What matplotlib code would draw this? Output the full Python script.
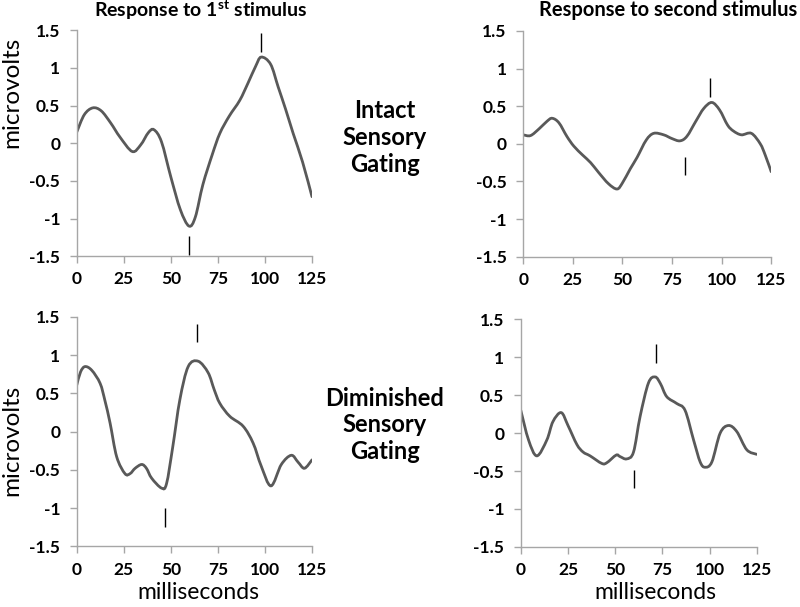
import matplotlib
matplotlib.use("Agg")
import matplotlib.pyplot as plt
from matplotlib.path import Path
from matplotlib.patches import PathPatch

plt.rcParams['font.family'] = ['Lato', 'DejaVu Sans']
plt.rcParams['mathtext.fontset'] = 'custom'
plt.rcParams['mathtext.rm'] = 'Lato'
plt.rcParams['mathtext.bf'] = 'Lato:bold'

# time points (ms) and amplitudes (microvolts)
t_intact_1 = [0, 4, 8.5, 13, 18, 23, 29.5, 34, 38, 41, 45, 50, 55, 59.6, 63, 67, 72, 76, 81, 86.6, 91, 95, 98, 103, 107, 111, 115, 120, 125]
v_intact_1 = [0.15, 0.38, 0.47, 0.43, 0.27, 0.08, -0.11, -0.02, 0.14, 0.18, 0.02, -0.45, -0.88, -1.10, -0.98, -0.55, -0.15, 0.13, 0.36, 0.57, 0.80, 1.02, 1.145, 1.05, 0.75, 0.45, 0.13, -0.25, -0.71]

t_intact_2 = [0, 3.7, 8, 12, 14.6, 18, 22, 25.5, 30, 34, 38, 43, 47.3, 50, 54, 57.4, 62, 65.8, 70.8, 75, 79, 82.5, 87, 91, 95.1, 99, 103, 106, 110, 115, 119.5, 122, 125]
v_intact_2 = [0.12, 0.11, 0.2, 0.3, 0.34, 0.28, 0.1, -0.03, -0.15, -0.25, -0.38, -0.53, -0.6, -0.52, -0.33, -0.18, 0.05, 0.14, 0.12, 0.07, 0.04, 0.1, 0.3, 0.47, 0.55, 0.45, 0.25, 0.17, 0.12, 0.14, 0.0, -0.15, -0.37]

t_dimin_1 = [0, 2, 4.4, 8, 12.4, 15, 17.7, 21.2, 25.6, 28.3, 31, 34.5, 37, 39.8, 45.1, 47.7, 51, 54.8, 59.2, 64.5, 69.8, 73, 76, 81.3, 88.4, 93.7, 98, 103.2, 108.7, 114, 117.6, 121, 125]
v_dimin_1 = [0.61, 0.78, 0.85, 0.8, 0.63, 0.4, 0.11, -0.33, -0.55, -0.55, -0.48, -0.43, -0.48, -0.61, -0.74, -0.68, -0.2, 0.42, 0.85, 0.92, 0.77, 0.55, 0.37, 0.2, 0.07, -0.15, -0.45, -0.71, -0.43, -0.31, -0.4, -0.48, -0.37]

t_dimin_2 = [0, 4.1, 8.5, 13.8, 17, 21.4, 25, 29.7, 33, 36.7, 42.9, 45.6, 50.5, 52.6, 56.1, 59.7, 63.2, 67.6, 71.2, 74, 77.3, 82.6, 87, 91.5, 95, 97.6, 101.2, 105.6, 110, 114.4, 119.7, 125]
v_dimin_2 = [0.30, -0.09, -0.30, -0.09, 0.15, 0.27, 0.1, -0.15, -0.25, -0.30, -0.40, -0.39, -0.29, -0.31, -0.34, -0.25, 0.22, 0.66, 0.74, 0.65, 0.48, 0.39, 0.30, -0.09, -0.38, -0.45, -0.38, 0.0, 0.10, 0.02, -0.22, -0.28]

# peak markers: x position, bottom, top of each little tick
mark_intact_1 = ([98, 59.5], [1.21, -1.49], [1.47, -1.23])
mark_intact_2 = ([94.3, 81.7], [0.62, -0.42], [0.88, -0.18])
mark_dimin_1 = ([64, 46.9], [1.17, -1.25], [1.41, -1.0])
mark_dimin_2 = ([71.7, 59.7], [0.93, -0.72], [1.17, -0.48])

y_ticks = [-1.5, -1, -0.5, 0, 0.5, 1, 1.5]
y_labels = ['-1.5', '-1', '-0.5', '0', '0.5', '1', '1.5']
x_ticks = [0, 25, 50, 75, 100, 125]


def smooth_path(t, v):
    # Excel-style "smoothed line": bezier segments through the points
    pts = list(zip(t, v))
    n = len(pts)
    verts = [pts[0]]
    codes = [Path.MOVETO]
    for i in range(n - 1):
        p0 = pts[max(i - 1, 0)]
        p1 = pts[i]
        p2 = pts[i + 1]
        p3 = pts[min(i + 2, n - 1)]
        c1 = (p1[0] + (p2[0] - p0[0]) / 6, p1[1] + (p2[1] - p0[1]) / 6)
        c2 = (p2[0] - (p3[0] - p1[0]) / 6, p2[1] - (p3[1] - p1[1]) / 6)
        verts += [c1, c2, p2]
        codes += [Path.CURVE4] * 3
    return Path(verts, codes)


fig = plt.figure(figsize=(8, 6.07), dpi=100)

panels = [
    ([0.096, 0.578, 0.294, 0.372], t_intact_1, v_intact_1, mark_intact_1, 0.726, False),
    ([0.654, 0.577, 0.310, 0.372], t_intact_2, v_intact_2, mark_intact_2, None, False),
    ([0.096, 0.100, 0.294, 0.378], t_dimin_1, v_dimin_1, mark_dimin_1, 0.46, 0.515),
    ([0.651, 0.099, 0.295, 0.375], t_dimin_2, v_dimin_2, mark_dimin_2, None, 0.57),
]

for rect, t, v, marks, ylab, xlab in panels:
    ax = fig.add_axes(rect)
    ax.add_patch(PathPatch(smooth_path(t, v), fill=False, edgecolor='#595959', lw=2.0, capstyle='round'))
    ax.vlines(marks[0], marks[1], marks[2], color='black', lw=1.0)
    ax.set_xlim(0, 125)
    ax.set_ylim(-1.5, 1.5)
    ax.set_xticks(x_ticks)
    ax.set_yticks(y_ticks)
    ax.set_yticklabels(y_labels)
    for s in ['top', 'right']:
        ax.spines[s].set_visible(False)
    for s in ['left', 'bottom']:
        ax.spines[s].set_color('#a6a6a6')
        ax.spines[s].set_linewidth(1.0)
    ax.tick_params(axis='both', colors='#a6a6a6', labelcolor='black', length=5, width=1.0, labelsize=12.5)
    ax.tick_params(axis='y', pad=7)
    ax.tick_params(axis='x', pad=6)
    for lbl in ax.get_xticklabels() + ax.get_yticklabels():
        lbl.set_fontweight('bold')
    if ylab:
        ax.text(-0.275, ylab, 'microvolts', transform=ax.transAxes, rotation=90,
                ha='center', va='center', fontsize=17.5)
    if xlab:
        ax.text(xlab, -0.2, 'milliseconds', transform=ax.transAxes,
                ha='center', va='center', fontsize=16.5)

fig.text(0.251, 0.983, 'Response to 1$^{\\mathbf{st}}$ stimulus', ha='center', va='center', fontsize=14, fontweight='bold')
fig.text(0.996, 0.983, 'Response to second stimulus', ha='right', va='center', fontsize=14.5, fontweight='bold')
fig.text(0.481, 0.773, 'Intact\nSensory\nGating', ha='center', va='center', fontsize=17, fontweight='bold', linespacing=1.2)
fig.text(0.481, 0.30, 'Diminished\nSensory\nGating', ha='center', va='center', fontsize=17, fontweight='bold', linespacing=1.2)

fig.savefig('out.png', dpi=100)
